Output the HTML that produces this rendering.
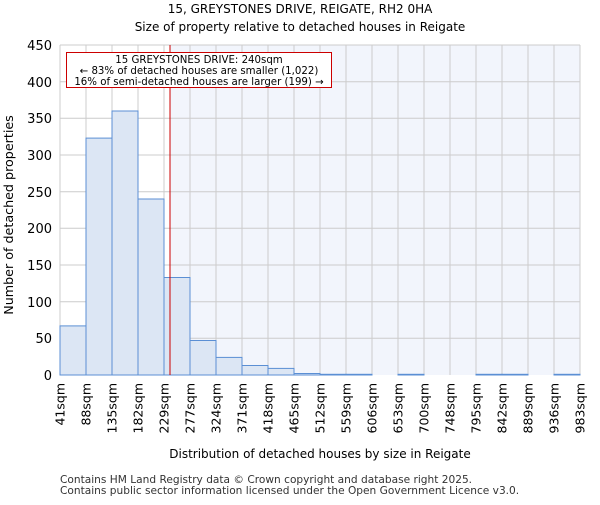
<!DOCTYPE html>
<html><head><meta charset="utf-8"><style>body{margin:0;background:#fff}</style></head><body>
<svg width="600" height="500" xmlns="http://www.w3.org/2000/svg" font-family="DejaVu Sans, sans-serif">
<rect width="600" height="500" fill="#fff"/>
<text x="300" y="13" font-size="12" text-anchor="middle">15, GREYSTONES DRIVE, REIGATE, RH2 0HA</text>
<text x="300" y="31" font-size="12" text-anchor="middle">Size of property relative to detached houses in Reigate</text>
<rect x="170" y="45" width="410" height="330" fill="#f2f5fc"/>
<g stroke="#cccccc" stroke-width="1">
<line x1="60" x2="580" y1="45" y2="45"/><line x1="60" x2="580" y1="81.7" y2="81.7"/><line x1="60" x2="580" y1="118.3" y2="118.3"/><line x1="60" x2="580" y1="155" y2="155"/><line x1="60" x2="580" y1="191.7" y2="191.7"/><line x1="60" x2="580" y1="228.3" y2="228.3"/><line x1="60" x2="580" y1="265" y2="265"/><line x1="60" x2="580" y1="301.7" y2="301.7"/><line x1="60" x2="580" y1="338.3" y2="338.3"/>
<line x1="60" x2="60" y1="45" y2="375"/><line x1="86" x2="86" y1="45" y2="375"/><line x1="112" x2="112" y1="45" y2="375"/><line x1="138" x2="138" y1="45" y2="375"/><line x1="164" x2="164" y1="45" y2="375"/><line x1="190" x2="190" y1="45" y2="375"/><line x1="216" x2="216" y1="45" y2="375"/><line x1="242" x2="242" y1="45" y2="375"/><line x1="268" x2="268" y1="45" y2="375"/><line x1="294" x2="294" y1="45" y2="375"/><line x1="320" x2="320" y1="45" y2="375"/><line x1="346" x2="346" y1="45" y2="375"/><line x1="372" x2="372" y1="45" y2="375"/><line x1="398" x2="398" y1="45" y2="375"/><line x1="424" x2="424" y1="45" y2="375"/><line x1="450" x2="450" y1="45" y2="375"/><line x1="476" x2="476" y1="45" y2="375"/><line x1="502" x2="502" y1="45" y2="375"/><line x1="528" x2="528" y1="45" y2="375"/><line x1="554" x2="554" y1="45" y2="375"/><line x1="580" x2="580" y1="45" y2="375"/>
</g>
<g fill="#dce6f4" stroke="#5b8fd4" stroke-width="1">
<rect x="60" y="325.9" width="26" height="49.1"/>
<rect x="86" y="138.1" width="26" height="236.9"/>
<rect x="112" y="111" width="26" height="264"/>
<rect x="138" y="199" width="26" height="176"/>
<rect x="164" y="277.5" width="26" height="97.5"/>
<rect x="190" y="340.5" width="26" height="34.5"/>
<rect x="216" y="357.4" width="26" height="17.6"/>
<rect x="242" y="365.5" width="26" height="9.5"/>
<rect x="268" y="368.4" width="26" height="6.6"/>
<rect x="294" y="373.5" width="26" height="1.5"/>
<rect x="320" y="374.3" width="26" height="0.7"/>
<rect x="346" y="374.3" width="26" height="0.7"/>
<rect x="398" y="374.3" width="26" height="0.7"/>
<rect x="476" y="374.3" width="26" height="0.7"/>
<rect x="502" y="374.3" width="26" height="0.7"/>
<rect x="554" y="374.3" width="26" height="0.7"/>
</g>
<line x1="170" x2="170" y1="45" y2="375" stroke="#cc0000" stroke-width="1"/>
<rect x="66.5" y="52.5" width="265" height="35" fill="#fff" stroke="#cc0000"/>
<g font-size="10.2" text-anchor="middle"><text x="199" y="63">15 GREYSTONES DRIVE: 240sqm</text><text x="199" y="74">← 83% of detached houses are smaller (1,022)</text><text x="199" y="85">16% of semi-detached houses are larger (199) →</text></g>
<g font-size="13" text-anchor="end">
<text x="52" y="50">450</text><text x="52" y="87">400</text><text x="52" y="123">350</text><text x="52" y="160">300</text><text x="52" y="197">250</text><text x="52" y="233">200</text><text x="52" y="270">150</text><text x="52" y="307">100</text><text x="52" y="343">50</text><text x="52" y="380">0</text>
</g>
<g font-size="12.5" text-anchor="end">
<text transform="translate(64.5,383) rotate(-90)">41sqm</text><text transform="translate(90.5,383) rotate(-90)">88sqm</text><text transform="translate(116.5,383) rotate(-90)">135sqm</text><text transform="translate(142.5,383) rotate(-90)">182sqm</text><text transform="translate(168.5,383) rotate(-90)">229sqm</text><text transform="translate(194.5,383) rotate(-90)">277sqm</text><text transform="translate(220.5,383) rotate(-90)">324sqm</text><text transform="translate(246.5,383) rotate(-90)">371sqm</text><text transform="translate(272.5,383) rotate(-90)">418sqm</text><text transform="translate(298.5,383) rotate(-90)">465sqm</text><text transform="translate(324.5,383) rotate(-90)">512sqm</text><text transform="translate(350.5,383) rotate(-90)">559sqm</text><text transform="translate(376.5,383) rotate(-90)">606sqm</text><text transform="translate(402.5,383) rotate(-90)">653sqm</text><text transform="translate(428.5,383) rotate(-90)">700sqm</text><text transform="translate(454.5,383) rotate(-90)">748sqm</text><text transform="translate(480.5,383) rotate(-90)">795sqm</text><text transform="translate(506.5,383) rotate(-90)">842sqm</text><text transform="translate(532.5,383) rotate(-90)">889sqm</text><text transform="translate(558.5,383) rotate(-90)">936sqm</text><text transform="translate(584.5,383) rotate(-90)">983sqm</text>
</g>
<text x="320" y="458" font-size="12" text-anchor="middle">Distribution of detached houses by size in Reigate</text>
<text transform="translate(13,215) rotate(-90)" font-size="12.7" text-anchor="middle">Number of detached properties</text>
<text x="60" y="483" font-size="10.6" fill="#333">Contains HM Land Registry data © Crown copyright and database right 2025.</text>
<text x="60" y="494" font-size="10.6" fill="#333">Contains public sector information licensed under the Open Government Licence v3.0.</text>
</svg>
</body></html>
